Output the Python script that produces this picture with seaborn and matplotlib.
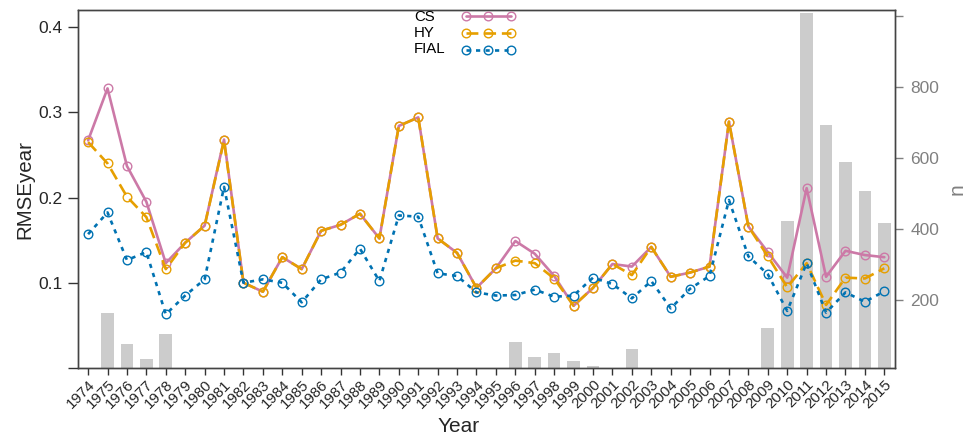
import matplotlib
matplotlib.use("Agg")
import matplotlib.pyplot as plt
import seaborn as sns
import pandas as pd
import numpy as np

years = list(range(1974, 2016))
cs = [0.267, 0.328, 0.237, 0.195, 0.123, 0.147, 0.167, 0.268, 0.100, 0.0895,
      0.130, 0.116, 0.161, 0.168, 0.181, 0.152, 0.284, 0.294, 0.152, 0.135,
      0.094, 0.117, 0.149, 0.134, 0.108, 0.073, 0.094, 0.122, 0.119, 0.142,
      0.107, 0.112, 0.119, 0.289, 0.166, 0.136, 0.106, 0.211, 0.107, 0.1375,
      0.1325, 0.130]
hy = [0.265, 0.240, 0.201, 0.177, 0.116, 0.147, 0.167, 0.267, 0.100, 0.0895,
      0.130, 0.116, 0.161, 0.168, 0.181, 0.152, 0.284, 0.294, 0.152, 0.135,
      0.094, 0.117, 0.126, 0.123, 0.105, 0.073, 0.094, 0.122, 0.109, 0.142,
      0.107, 0.112, 0.119, 0.289, 0.166, 0.131, 0.0946, 0.123, 0.074, 0.106,
      0.105, 0.117]
fial = [0.157, 0.1825, 0.1266, 0.136, 0.063, 0.085, 0.104, 0.2125, 0.100, 0.104,
        0.100, 0.077, 0.104, 0.112, 0.140, 0.102, 0.179, 0.1775, 0.111, 0.108,
        0.0887, 0.085, 0.0856, 0.092, 0.0836, 0.085, 0.106, 0.0985, 0.0817, 0.102,
        0.070, 0.093, 0.108, 0.197, 0.131, 0.110, 0.067, 0.123, 0.065, 0.0887,
        0.0777, 0.090]
n_obs = [0, 162, 75, 33, 104, 0, 0, 0, 0, 0,
         0, 0, 0, 0, 0, 0, 0, 0, 0, 0,
         0, 0, 80, 40, 50, 28, 14, 0, 61, 0,
         0, 0, 0, 0, 0, 122, 424, 1009, 694, 588,
         508, 416]
series_names = ["CS", "HY", "FIAL"]

df = pd.DataFrame({"Year": years, "CS": cs, "HY": hy, "FIAL": fial, "n": n_obs})

sns.set_style("ticks")
plt.rcParams["font.family"] = ["Liberation Sans", "DejaVu Sans"]

fig = plt.figure(figsize=(9.68, 4.40), dpi=100)
ax = fig.add_axes([78/968, 1-368/440, (895-78)/968, (368-10)/440])
ax2 = ax.twinx()

# bars behind lines
ax2.set_zorder(1)
ax.set_zorder(2)
ax.patch.set_visible(False)

sns.barplot(data=df, x="Year", y="n", ax=ax2, native_scale=True, color="#cccccc",
            width=0.65, errorbar=None, saturation=1, edgecolor="none")

lw = 1.9
ms = 6.2
colors = {"CS": "#CC79A7", "HY": "#E69F00", "FIAL": "#0072B2"}
styles = {"CS": "-", "HY": (0, (4.5, 2.2)), "FIAL": (0, (1.6, 2.0))}
for name in series_names:
    col = colors[name]
    sns.lineplot(data=df, x="Year", y=name, ax=ax, color=col, linestyle=styles[name],
                 linewidth=lw, marker="o", markersize=ms, markerfacecolor="none",
                 markeredgecolor=col, markeredgewidth=1.0, errorbar=None, label=name)

ax.set_xlim(1973.48, 2015.55)
ax.set_ylim(0, 0.42)
ax2.set_ylim(8, 1018)

ax.set_xticks(years)
ax.set_xticklabels([str(y) for y in years], rotation=45, ha="right",
                   rotation_mode="anchor", fontsize=10.8)
ax.set_yticks([0, 0.1, 0.2, 0.3, 0.4])
ax.set_yticklabels(["", "0.1", "0.2", "0.3", "0.4"], fontsize=12.5)
ax.tick_params(axis="x", length=5, width=1, pad=2, color="#333333")
ax.tick_params(axis="y", length=7, width=1, pad=4, color="#333333")

ax2.set_yticks([200, 400, 600, 800, 1000])
ax2.set_yticklabels(["200", "400", "600", "800", ""], fontsize=12.5, color="#808080")
ax2.tick_params(axis="y", length=6, width=1, pad=5, color="#808080")

ax.set_xlabel("Year", fontsize=15)
ax.xaxis.set_label_coords(0.466, -0.138)
ax.set_ylabel("RMSEyear", fontsize=14.8)
ax.yaxis.set_label_coords(-0.054, 0.5)
ax2.set_ylabel("n", fontsize=15, color="#808080")
ax2.yaxis.set_label_coords(1.064, 0.5)

for a in (ax, ax2):
    for s in a.spines.values():
        s.set_visible(True)
        s.set_color("#444444")
        s.set_linewidth(1)

# legend: left-aligned labels, line samples to their right
handles, labels = ax.get_legend_handles_labels()
leg = ax.legend(handles, ["", "", ""], loc="upper left", bbox_to_anchor=(0.469, 1.0),
                frameon=False, numpoints=3, handlelength=3.7, fontsize=10.5,
                labelspacing=0.2, handletextpad=0.0, borderpad=0.0, borderaxespad=0.0)
row_y = [0.9818, 0.9358, 0.8897]
for name, yy in zip(labels, row_y):
    ax.text(0.411, yy, name, transform=ax.transAxes, ha="left", va="center",
            fontsize=10.8, color="black")

fig.savefig("out.png", dpi=100)
